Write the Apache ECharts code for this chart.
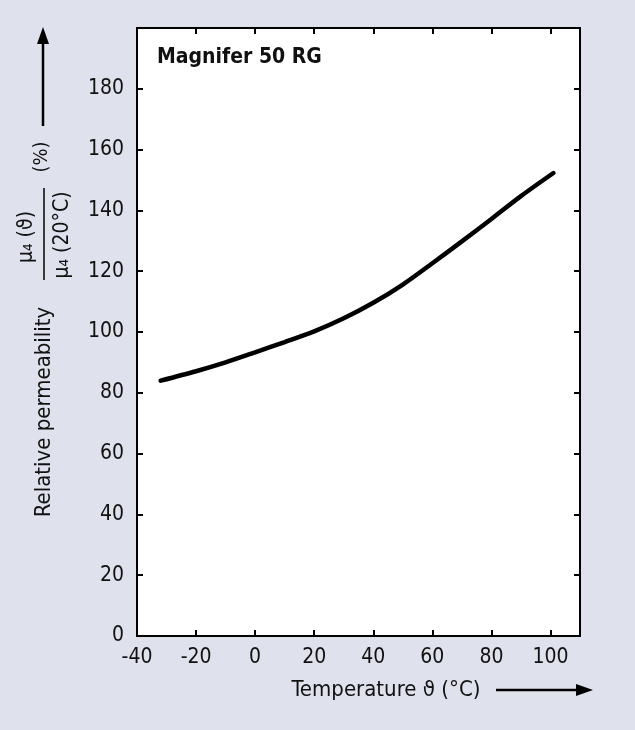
<!DOCTYPE html>
<html>
<head>
<meta charset="utf-8">
<script src="https://cdn.jsdelivr.net/npm/echarts@6/dist/echarts.min.js"></script>
<style>
html,body{margin:0;padding:0;background:#dfe1ec;}
#chart{width:635px;height:730px;}
</style>
</head>
<body>
<div id="chart"></div>
<script>
const temperature = [-32, -20, -10, 0, 10, 20, 30, 40, 50, 60, 70, 80, 90, 101];
const permeability = [84, 87.1, 90.0, 93.3, 96.7, 100.2, 104.5, 109.6, 115.6, 122.6, 129.8, 137.2, 144.7, 152.3];
const xMin = -40, xMax = 110, xStep = 20;
const yMin = 0, yMax = 200, yStep = 20;
const chartTitle = 'Magnifer 50 RG';
const xAxisTitle = 'Temperature ϑ (°C)';
const yAxisTitle = 'Relative permeability';
const yFracNum = 'μ₄ (ϑ)';
const yFracDen = 'μ₄ (20°C)';
const yUnit = '(%)';

const COND = '"DejaVu Sans Condensed", "DejaVu Sans"';
const chart = echarts.init(document.getElementById('chart'));

const tickCommon = {show: true, inside: true, length: 6, lineStyle: {color: '#000', width: 2}};
const lineCommon = {show: true, onZero: false, lineStyle: {color: '#000', width: 2}};

chart.setOption({
  backgroundColor: '#dfe1ec',
  animation: false,
  grid: {left: 137, right: 55, top: 28, bottom: 94, show: true, backgroundColor: '#fff', borderColor: '#000', borderWidth: 2},
  xAxis: [{
    type: 'value', min: xMin, max: xMax, interval: xStep, position: 'bottom',
    axisLine: lineCommon, axisTick: tickCommon, splitLine: {show: false},
    axisLabel: {color: '#111', fontFamily: 'DejaVu Sans Condensed', fontSize: 21, margin: 11,
      formatter: v => (v > 100 ? '' : String(v))}
  }, {
    type: 'value', min: xMin, max: xMax, interval: xStep, position: 'top',
    axisLine: lineCommon, axisTick: tickCommon, splitLine: {show: false}, axisLabel: {show: false}
  }],
  yAxis: [{
    type: 'value', min: yMin, max: yMax, interval: yStep, position: 'left',
    axisLine: lineCommon, axisTick: tickCommon, splitLine: {show: false},
    axisLabel: {color: '#111', fontFamily: 'DejaVu Sans Condensed', fontSize: 21, margin: 13,
      formatter: v => (v >= 200 ? '' : String(v))}
  }, {
    type: 'value', min: yMin, max: yMax, interval: yStep, position: 'right',
    axisLine: lineCommon, axisTick: tickCommon, splitLine: {show: false}, axisLabel: {show: false}
  }],
  series: [{
    type: 'line', xAxisIndex: 0, yAxisIndex: 0,
    data: temperature.map((t, i) => [t, permeability[i]]),
    smooth: 0.3, showSymbol: false,
    lineStyle: {color: '#000', width: 4.5, cap: 'round'}
  }],
  graphic: [
    {type: 'text', left: 157, top: 47, style: {text: chartTitle, font: 'bold 21px ' + COND, fill: '#111'}},
    {type: 'text', x: 386, y: 690, style: {text: xAxisTitle, font: '22px ' + COND, fill: '#111', align: 'center', verticalAlign: 'middle'}},
    {type: 'line', shape: {x1: 496, y1: 690, x2: 580, y2: 690}, style: {stroke: '#000', lineWidth: 2.5}},
    {type: 'polygon', shape: {points: [[593, 690], [576, 684], [576, 696]]}, style: {fill: '#000'}},
    {type: 'text', x: 44, y: 412, rotation: Math.PI / 2, style: {text: yAxisTitle, font: '22px ' + COND, fill: '#111', align: 'center', verticalAlign: 'middle'}},
    {type: 'text', x: 27, y: 237, rotation: Math.PI / 2, style: {text: yFracNum, font: '21px ' + COND, fill: '#111', align: 'center', verticalAlign: 'middle'}},
    {type: 'text', x: 63, y: 235, rotation: Math.PI / 2, style: {text: yFracDen, font: '21px ' + COND, fill: '#111', align: 'center', verticalAlign: 'middle'}},
    {type: 'line', shape: {x1: 44, y1: 188, x2: 44, y2: 280}, style: {stroke: '#000', lineWidth: 1.5}},
    {type: 'text', x: 42, y: 157, rotation: Math.PI / 2, style: {text: yUnit, font: '20px ' + COND, fill: '#111', align: 'center', verticalAlign: 'middle'}},
    {type: 'line', shape: {x1: 43, y1: 126, x2: 43, y2: 40}, style: {stroke: '#000', lineWidth: 2.5}},
    {type: 'polygon', shape: {points: [[43, 27], [37, 44], [49, 44]]}, style: {fill: '#000'}}
  ]
});
</script>
</body>
</html>
